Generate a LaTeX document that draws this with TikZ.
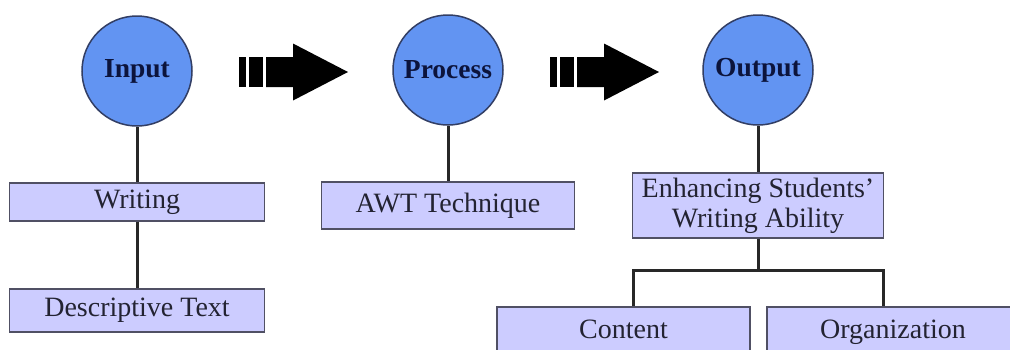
\documentclass[tikz,border=0pt]{standalone}
\usepackage{fontspec}
\setmainfont{Liberation Serif}
\definecolor{discfill}{RGB}{98,148,242}
\definecolor{discline}{RGB}{50,62,100}
\definecolor{boxfill}{RGB}{204,204,255}
\definecolor{boxline}{RGB}{80,80,100}
\definecolor{wire}{RGB}{40,40,40}
\definecolor{labeltext}{RGB}{35,35,50}
\definecolor{disctext}{RGB}{12,20,60}
\tikzset{
  stage/.style={circle, draw=discline, line width=1.5pt, fill=discfill,
    minimum size=110pt, inner sep=0pt,
    font=\fontsize{27.5}{30}\selectfont\bfseries, text=disctext},
  item/.style={rectangle, draw=boxline, line width=1.4pt, fill=boxfill,
    inner sep=0pt, font=\fontsize{28}{30}\selectfont, text=labeltext, align=center},
  link/.style={draw=wire, line width=3pt},
  stripes/.pic={
    \fill (0,-15) rectangle (7,15);
    \fill (10,-15) rectangle (24,15);
    \fill (27,-15) -- (54,-15) -- (54,-28.5) -- (109,0) -- (54,28.5)
          -- (54,15) -- (27,15) -- cycle;
  }
}
\begin{document}
\begin{tikzpicture}[x=1pt,y=-1pt]
\fill[white] (0,0) rectangle (1010,349);
\clip (0,0) rectangle (1010,349);
\useasboundingbox (0,0) rectangle (1010,349);

% stages
\node[stage] (in)  at (137,71) {Input};
\node[stage] (pr)  at (448,70) {Process};
\node[stage] (out) at (758,70) {Output};

% striped block arrows between the stages
\pic at (239,72) {stripes};
\pic at (550,72) {stripes};

% boxes
\node[item, minimum width=255pt, minimum height=38pt] (wr)  at (137,202)   {Writing};
\node[item, minimum width=255pt, minimum height=43pt] (dt)  at (137,310.5) {Descriptive Text};
\node[item, minimum width=253pt, minimum height=47pt] (awt) at (448,205.5) {AWT Technique};
\node[item, minimum width=251pt, minimum height=65pt] (enh) at (758,205.5) {Enhancing Students'\\Writing Ability};
\node[item, minimum width=253pt, minimum height=45pt, text height=18.5pt, text depth=0pt] (con) at (623.5,329.5) {Content};
\node[item, minimum width=252pt, minimum height=45pt, text height=18.5pt, text depth=0pt] (org) at (893,329.5) {Organization};

% connectors
\draw[link] (in) -- (wr);
\draw[link] (wr) -- (dt);
\draw[link] (pr) -- (awt);
\draw[link] (out) -- (enh);
\coordinate (hub) at (758,270);
\coordinate (jl) at (633,270);
\coordinate (jr) at (883,270);
\draw[link] (enh) -- (hub);
\draw[link] (con.north -| jl) -- (jl) -- (jr) -- (org.north -| jr);
\end{tikzpicture}
\end{document}
